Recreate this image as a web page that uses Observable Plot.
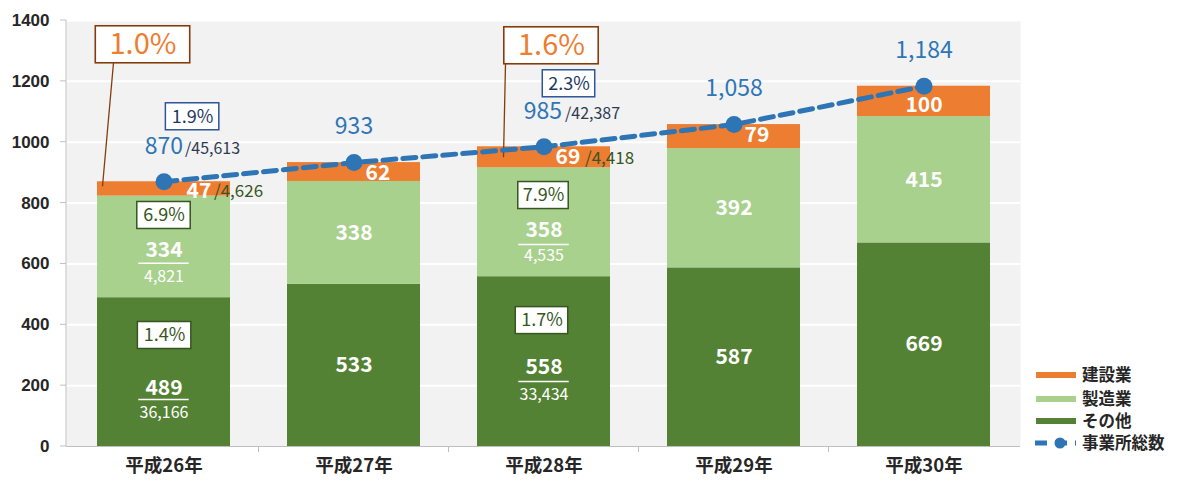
<!DOCTYPE html>
<html><head><meta charset="utf-8">
<script src="https://cdn.jsdelivr.net/npm/d3@7"></script>
<script src="https://cdn.jsdelivr.net/npm/@observablehq/plot@0.6"></script>
<style>
body{margin:0;background:#fff;}
#wrap{position:relative;width:1183px;height:485px;font-family:'Noto Sans CJK JP',sans-serif;}
#legend{position:absolute;left:1030px;top:362px;}
</style></head><body><div id="wrap"></div>
<script>
// ---- data ----
const years = ["平成26年","平成27年","平成28年","平成29年","平成30年"];
const seriesNames = ["その他","製造業","建設業"];
const seriesColors = ["#548235","#A9D18E","#ED7D31"];
const otherCounts = [489,533,558,587,669];
const manufCounts = [334,338,358,392,415];
const constrCounts = [47,62,69,79,100];
const totalCounts = [870,933,985,1058,1184];
const lineName = "事業所総数";
const yTicks = [0,200,400,600,800,1000,1200,1400];
// comparison denominators and shares (平成26年, 平成28年)
const totalNational  = [45613,null,42387,null,null];
const constrNational = [4626,null,4418,null,null];
const manufNational  = [4821,null,4535,null,null];
const otherNational  = [36166,null,33434,null,null];
const totalShare  = ["1.9%",null,"2.3%",null,null];
const constrShare = ["1.0%",null,"1.6%",null,null];
const manufShare  = ["6.9%",null,"7.9%",null,null];
const otherShare  = ["1.4%",null,"1.7%",null,null];

// ---- layout ----
const W=1183,H=485,ML=66,MR=163,MT=20,MB=39, PI=0.3, PO=0.15;
const step=(W-ML-MR)/(years.length-PI+2*PO), bw=step*(1-PI);
const blue="#2E75B6", navy="#1F3864", dgreen="#375623", axisGray="#bfbfbf", ink="#262626";
const fmt=d3.format(",");

const rows = years.flatMap((year,i)=>[
  {year, series:seriesNames[0], value:otherCounts[i]},
  {year, series:seriesNames[1], value:manufCounts[i]},
  {year, series:seriesNames[2], value:constrCounts[i]}]);
const totals = years.map((year,i)=>({year, total:totalCounts[i]}));

const marks=[];
function txt(year,value,text,o={}){
  marks.push(Plot.text([{year,value,text}],{x:"year",y:"value",text:"text",
    dx:o.dx||0,dy:o.dy||0,fill:o.fill||"white",fontSize:o.size||21,
    fontWeight:o.weight||"bold",textAnchor:o.anchor||"middle"}));
}
function box(year,value,text,o){
  marks.push(Plot.barY([{year,value}],{x:"year",y1:"value",y2:"value",dy:o.dy,
    insetLeft:bw/2+o.dx-o.w/2,insetRight:bw/2-o.dx-o.w/2,insetTop:-o.h/2,insetBottom:-o.h/2,
    fill:"white",stroke:o.stroke,strokeWidth:o.sw||1.5}));
  txt(year,value,text,{dx:o.dx,dy:o.dy,fill:o.color,size:o.size,weight:"normal"});
}
function frac(year,value,dy,w){
  marks.push(Plot.tickY([{year,value}],{x:"year",y:"value",dy,insetLeft:bw/2-w/2,insetRight:bw/2-w/2,stroke:"white",strokeWidth:1.5}));
}

const constrOff=[{dx:35,dy:2},{dx:24,dy:1.5},{dx:24,dy:0},{dx:23,dy:-1},{dx:0,dy:4}];
const otherOff=[16.5,0,5.6,0,0], manufOff=[3.6,0,8.3,0,0];
const ruleOff={0:{o:27.4,m:16.3,on:41,mn:30},2:{o:20,m:22.3,on:33,mn:34}};
const totalSplit={0:{dx:19,sdx:21},2:{dx:18,sdx:21}};
const constrSplit={0:50,2:41};
const orangeBox={0:{dx:-21,dy:-137},2:{dx:7.5,dy:-101}};
const blueBox={0:{dx:28.6,dy:-65,w:54},2:{dx:25,dy:-63,w:53}};
const manufBox={0:{dx:0,dy:-31.4,w:54},2:{dx:-0.5,dy:-26.7,w:51}};
const otherBox={0:{dx:0.6,dy:-36.6,w:54},2:{dx:-2,dy:-41,w:53}};
const leaders={0:{tx:-50,bx:-61,by:5},2:{tx:-38,bx:-40,by:11}};

years.forEach((yr,i)=>{
  const oMid=otherCounts[i]/2, mMid=otherCounts[i]+manufCounts[i]/2,
        cMid=otherCounts[i]+manufCounts[i]+constrCounts[i]/2, t=totalCounts[i];
  txt(yr,oMid,fmt(otherCounts[i]),{dy:otherOff[i]});
  txt(yr,mMid,fmt(manufCounts[i]),{dy:manufOff[i]});
  txt(yr,cMid,fmt(constrCounts[i]),constrOff[i]);
  if(otherNational[i]!=null){
    const r=ruleOff[i];
    frac(yr,oMid,r.o,51); frac(yr,mMid,r.m,51);
    txt(yr,oMid,fmt(otherNational[i]),{dy:r.on,size:16,weight:"normal"});
    txt(yr,mMid,fmt(manufNational[i]),{dy:r.mn,size:16,weight:"normal"});
    txt(yr,cMid,"/"+fmt(constrNational[i]),{dx:constrSplit[i],dy:constrOff[i].dy+1,size:17,weight:"normal",fill:dgreen,anchor:"start"});
    const s=totalSplit[i];
    txt(yr,t,fmt(t),{dx:s.dx,dy:-35,fill:blue,size:23,weight:"normal",anchor:"end"});
    txt(yr,t,"/"+fmt(totalNational[i]),{dx:s.sdx,dy:-33,fill:"#2F3B55",size:16,weight:"normal",anchor:"start"});
    box(yr,t,constrShare[i],{...orangeBox[i],w:95,h:37,stroke:"#843C0C",color:"#ED7D31",size:29,sw:1.6});
    box(yr,t,totalShare[i],{...blueBox[i],h:27,stroke:"#2F5597",color:navy,size:18});
    box(yr,mMid,manufShare[i],{...manufBox[i],h:27,stroke:dgreen,color:dgreen,size:18});
    box(yr,oMid,otherShare[i],{...otherBox[i],h:27,stroke:dgreen,color:dgreen,size:18});
  } else {
    txt(yr,t,fmt(t),{dy:-35.5,fill:blue,size:23,weight:"normal"});
  }
});

// axis lines, y tick marks, category separators, callout leaders (through the scales)
function extras(index,scales,values,dims){
  const {x,y}=scales;
  const g=d3.create("svg:g");
  const gap=x.step()-x.bandwidth();
  g.append("line").attr("x1",dims.marginLeft).attr("x2",dims.marginLeft)
   .attr("y1",y(yTicks[yTicks.length-1])).attr("y2",y(0)).attr("stroke",axisGray);
  yTicks.forEach(v=>{
    g.append("line").attr("x1",dims.marginLeft-6).attr("x2",dims.marginLeft).attr("y1",y(v)).attr("y2",y(v)).attr("stroke",axisGray);
  });
  years.slice(1).forEach(yr=>{
    const xx=x(yr)-gap/2;
    g.append("line").attr("x1",xx).attr("x2",xx).attr("y1",y(0)).attr("y2",y(0)+6).attr("stroke",axisGray);
  });
  Object.keys(leaders).forEach(k=>{
    const i=+k, L=leaders[k], cx=x(years[i])+x.bandwidth()/2, yt=y(totalCounts[i]);
    g.append("line").attr("x1",cx+L.tx).attr("y1",yt+orangeBox[i].dy+18.5)
     .attr("x2",cx+L.bx).attr("y2",yt+L.by).attr("stroke","#843C0C").attr("stroke-width",1.3);
  });
  return g.node();
}

const chart=Plot.plot({
  width:W,height:H,marginLeft:ML,marginRight:MR,marginTop:MT,marginBottom:MB,
  style:{fontFamily:"'Noto Sans CJK JP', sans-serif",fontSize:"16px",background:"white",color:ink,overflow:"visible"},
  x:{domain:years,paddingInner:PI,paddingOuter:PO,axis:null},
  y:{domain:[0,1400],axis:null},
  color:{domain:seriesNames,range:seriesColors},
  marks:[
    Plot.frame({fill:"#f2f2f2",stroke:"none"}),
    Plot.ruleY(yTicks.slice(1),{stroke:"white",strokeWidth:2}),
    Plot.barY(rows,{x:"year",y:"value",fill:"series",order:seriesNames}),
    Plot.ruleY([0],{stroke:axisGray}),
    extras,
    // axis labels
    Plot.text(yTicks,{y:d=>d,text:d=>String(d),frameAnchor:"left",textAnchor:"end",dx:-17,
      fontSize:17,fontWeight:"bold",fontFamily:"'Liberation Sans',Arial,sans-serif",fill:ink}),
    Plot.text(years,{x:d=>d,text:d=>d,frameAnchor:"bottom",dy:25,fontSize:18.5,fontWeight:"bold",fill:ink}),
    Plot.line(totals,{x:"year",y:"total",stroke:blue,strokeWidth:5,strokeDasharray:"13,7"}),
    Plot.dot(totals,{x:"year",y:"total",r:8.5,fill:blue}),
    ...marks
  ]
});
document.getElementById("wrap").appendChild(chart);

// legend
const leg=d3.select("#wrap").append("svg").attr("id","legend").attr("width",150).attr("height",95);
const legItems=[...seriesNames].reverse().map((n)=>({name:n,color:seriesColors[seriesNames.indexOf(n)],type:"bar"}))
  .concat([{name:lineName,color:blue,type:"line"}]);
const rowY=[13,37,59,81];
legItems.forEach((d,k)=>{
  const gy=rowY[k];
  if(d.type==="bar") leg.append("rect").attr("x",6).attr("y",gy-3).attr("width",40).attr("height",6).attr("fill",d.color);
  else {
    leg.append("line").attr("x1",5).attr("x2",46).attr("y1",gy).attr("y2",gy).attr("stroke",d.color).attr("stroke-width",5).attr("stroke-dasharray","12,8");
    leg.append("circle").attr("cx",30).attr("cy",gy).attr("r",5.5).attr("fill",d.color);
  }
  leg.append("text").attr("x",52).attr("y",gy).attr("dy","0.35em").attr("font-size",16.5).attr("font-weight","bold")
    .attr("fill",ink).attr("font-family","'Noto Sans CJK JP',sans-serif").text(d.name);
});
</script>
</body></html>
